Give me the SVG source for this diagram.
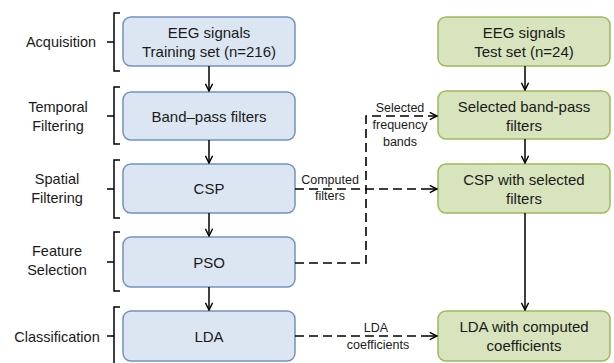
<svg xmlns="http://www.w3.org/2000/svg" width="614" height="363" viewBox="0 0 614 363">
<defs>
<marker id="arr" viewBox="0 0 10 10" refX="9" refY="5" markerWidth="9" markerHeight="9" markerUnits="userSpaceOnUse" orient="auto">
<path d="M1,1 L9,5 L1,9" fill="none" stroke="#000" stroke-width="1.6"/>
</marker>
</defs>
<style>
.blue{fill:#dce6f2;stroke:#7391c0;stroke-width:1.5}
.green{fill:#d7e4bd;stroke:#9bbb59;stroke-width:1.5}
.bt{font-family:"Liberation Sans",Arial,sans-serif;font-size:15px;fill:#1a1a1a;text-anchor:middle}
.lt{font-family:"Liberation Sans",Arial,sans-serif;font-size:14.5px;fill:#1a1a1a;text-anchor:middle}
.st{font-family:"Liberation Sans",Arial,sans-serif;font-size:12.5px;fill:#1a1a1a;text-anchor:middle}
.br{fill:none;stroke:#000;stroke-width:1.5}
.ar{fill:none;stroke:#000;stroke-width:1.5;marker-end:url(#arr)}
.da{fill:none;stroke:#000;stroke-width:1.6;stroke-dasharray:9,5}
</style>
<rect width="614" height="363" fill="#fff"/>
<g id="stages">
<g id="acquisition"><text class="lt" x="61" y="47">Acquisition</text><path class="br" d="M120,13 H114 V71 H120 M114,42 H107"/></g>
<g id="temporal"><text class="lt" x="58" y="112">Temporal</text><text class="lt" x="58" y="131">Filtering</text><path class="br" d="M120,87 H114 V144 H120 M114,116 H107"/></g>
<g id="spatial"><text class="lt" x="57" y="184">Spatial</text><text class="lt" x="57" y="203">Filtering</text><path class="br" d="M120,160 H114 V218 H120 M114,189 H107"/></g>
<g id="featsel"><text class="lt" x="57" y="256">Feature</text><text class="lt" x="57" y="275">Selection</text><path class="br" d="M120,232 H114 V291 H120 M114,262 H107"/></g>
<g id="classif"><text class="lt" x="57" y="342">Classification</text><path class="br" d="M120,307 H114 V366 M114,336 H107"/></g>
</g>
<g id="n1"><rect class="blue" x="123" y="17" width="172" height="49" rx="8"/><text class="bt" x="209" y="38">EEG signals</text><text class="bt" x="209" y="57">Training set (n=216)</text></g>
<g id="n2"><rect class="blue" x="123" y="92" width="172" height="48" rx="8"/><text class="bt" x="209" y="122">Band–pass filters</text></g>
<g id="n3"><rect class="blue" x="123" y="164" width="172" height="49" rx="8"/><text class="bt" x="209" y="194">CSP</text></g>
<g id="n4"><rect class="blue" x="123" y="237" width="172" height="50" rx="8"/><text class="bt" x="209" y="268">PSO</text></g>
<g id="n5"><rect class="blue" x="123" y="311" width="172" height="50" rx="8"/><text class="bt" x="209" y="342">LDA</text></g>
<g id="m1"><rect class="green" x="438" y="17" width="172" height="49" rx="8"/><text class="bt" x="524" y="38">EEG signals</text><text class="bt" x="524" y="57">Test set (n=24)</text></g>
<g id="m2"><rect class="green" x="438" y="91" width="172" height="48" rx="8"/><text class="bt" x="524" y="112">Selected band-pass</text><text class="bt" x="524" y="131">filters</text></g>
<g id="m3"><rect class="green" x="438" y="164" width="172" height="49" rx="8"/><text class="bt" x="524" y="185">CSP with selected</text><text class="bt" x="524" y="204">filters</text></g>
<g id="m4"><rect class="green" x="438" y="311" width="172" height="50" rx="8"/><text class="bt" x="524" y="332">LDA with computed</text><text class="bt" x="524" y="351">coefficients</text></g>
<g id="connectors">
<path class="ar" d="M209,66 V91"/>
<path class="ar" d="M209,140 V163"/>
<path class="ar" d="M209,213 V236"/>
<path class="ar" d="M209,287 V310"/>
<path class="ar" d="M525,66 V90"/>
<path class="ar" d="M525,139 V163"/>
<path class="ar" d="M525,213 V310"/>
<path class="da" d="M295,189 H428"/><path class="ar" d="M428,189 H437"/>
<path class="da" d="M295,263 H366 V116 H428"/><path class="ar" d="M428,116 H437"/>
<path class="da" d="M295,336 H428"/><path class="ar" d="M428,336 H437"/>
<text class="st" x="400" y="112">Selected</text>
<text class="st" x="400" y="129">frequency</text>
<text class="st" x="400" y="146">bands</text>
<text class="st" x="330" y="184">Computed</text>
<text class="st" x="330" y="200">filters</text>
<text class="st" x="376" y="332">LDA</text>
<text class="st" x="378" y="349">coefficients</text>
</g>
</svg>
